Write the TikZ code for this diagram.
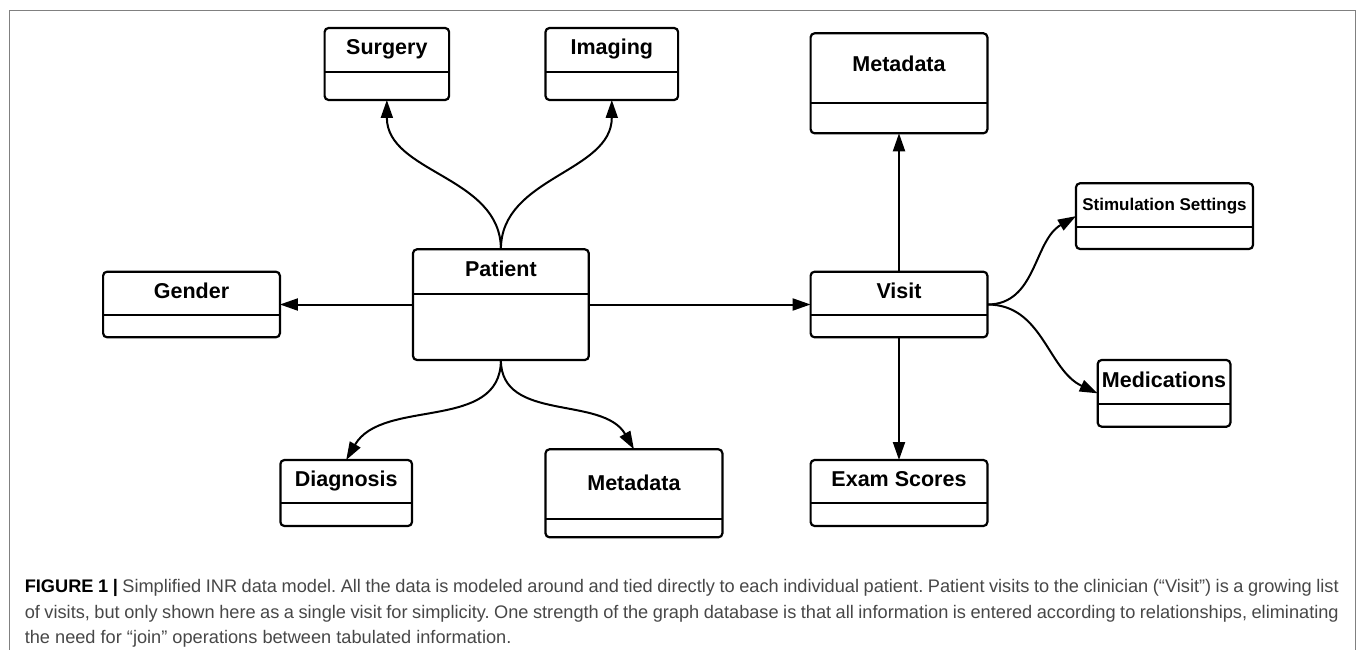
\documentclass[tikz,border=0pt]{standalone}
\usepackage{fontspec}
\setmainfont{Liberation Sans}
\usetikzlibrary{arrows.meta}
\frenchspacing

\begin{document}
\begin{tikzpicture}[x=1pt,y=-1pt,
    cls/.style={draw,line width=2.2pt,rounded corners=4pt,inner sep=0pt,outer sep=0pt},
    lbl/.style={anchor=base,inner sep=0pt,font=\bfseries\fontsize{21.5}{24}\selectfont},
    conn/.style={line width=2pt,-{Triangle[length=18pt,width=12pt]}}]
  \useasboundingbox (0,0) rectangle (1358,650);
  \draw[black!50,line width=1.6pt] (9.4,650) -- (9.4,10.7) -- (1355.4,10.7) -- (1355.4,650);
  \foreach \nm/\xa/\ya/\xb/\yb/\yd/\yt/\txt in {
      surgery/324.6/28/449.1/100/72/55/Surgery,
      imaging/545.5/28/678.1/100/72/55/Imaging,
      patient/413/249.3/588.8/360/294/276/Patient,
      gender/103.1/271.7/279.9/337.3/315.3/298/Gender,
      metatop/810.6/33.3/987.4/133.3/103.3/72/Metadata,
      stim/1076/183.3/1253/249/227.3/211/{\fontsize{17}{20}\selectfont Stimulation Settings},
      visit/810.6/271.7/987.4/337.3/315.3/298/Visit,
      meds/1097.7/360/1230.4/426.7/404.3/387.7/Medications,
      exam/810.6/460/987.4/526/503.3/486.7/Exam Scores,
      diag/280.4/460/412/526/503.3/486.7/Diagnosis,
      metabot/545.5/449.3/722.4/537.3/519/490.7/Metadata}{
    \node[cls,minimum width={(\xb-\xa)*1pt},minimum height={(\yb-\ya)*1pt}] (\nm) at ({(\xa+\xb)/2},{(\ya+\yb)/2}) {};
    \draw[line width=2.2pt] (\nm.west |- 0,\yd) -- (\nm.east |- 0,\yd);
    \node[lbl] at ({(\xa+\xb)/2},\yt) {\txt};
  }
  \draw[conn] (patient.west |- gender.east) -- (gender.east);
  \draw[conn] (patient.east |- visit.west) -- (visit.west);
  \draw[conn] (patient.north) to[out=90,in=-90] (surgery.south);
  \draw[conn] (patient.north) to[out=90,in=-90] (imaging.south);
  \draw[conn] (patient.south) to[out=-90,in=60] (diag.north);
  \draw[conn] (patient.south) to[out=-90,in=120] (metabot.north);
  \draw[conn] (visit.north) -- (metatop.south);
  \draw[conn] (visit.south) -- (exam.north);
  \draw[conn] (visit.east) to[out=0,in=210] (stim.west);
  \draw[conn] (visit.east) to[out=0,in=155] (meds.west);
  \node[anchor=north west,inner sep=0pt,align=left,text=black!72,
    font=\fontsize{18.2}{25.3}\selectfont] (caption) at (24.6,579.5)
    {\makebox[1314pt][s]{\textcolor{black}{\textbf{FIGURE 1 |}} Simplified INR data model. All the data is modeled around and tied directly to each individual patient. Patient visits to the clinician (“Visit”) is a growing list}\\
     \makebox[1314pt][s]{of visits, but only shown here as a single visit for simplicity. One strength of the graph database is that all information is entered according to relationships, eliminating}\\
     the need for “join” operations between tabulated information.};
\end{tikzpicture}
\end{document}
